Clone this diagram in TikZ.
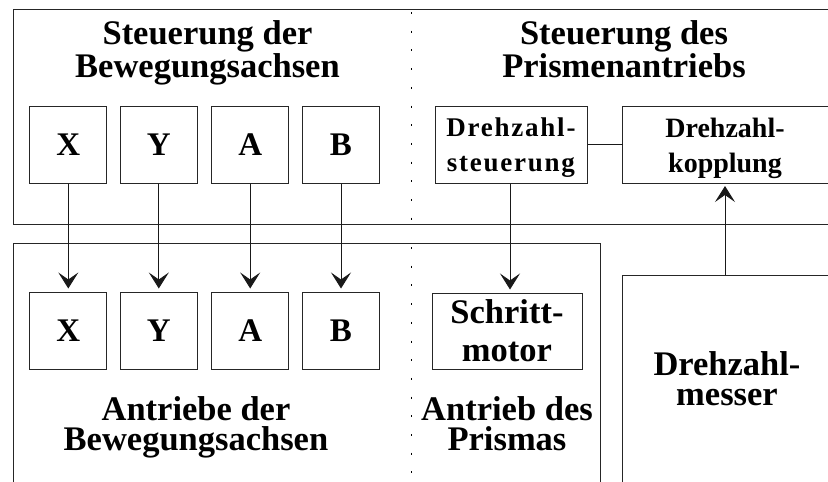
\documentclass[tikz,border=0pt]{standalone}
\usepackage{fontspec}
\setmainfont{Liberation Serif}
\usetikzlibrary{arrows.meta}
\begin{document}
\begin{tikzpicture}[x=1pt,y=-1pt,
  frame/.style={draw=black!85,line width=1pt},
  blk/.style={draw=black!85,line width=1pt,inner sep=0pt,font=\bfseries},
  axis/.style={blk,minimum width=76.7pt,minimum height=77pt,font=\fontsize{33}{33}\selectfont\bfseries},
  title/.style={align=center,inner sep=0pt,anchor=base,font=\fontsize{34.5}{30}\selectfont\bfseries},
  sep/.style={draw=black,line width=1pt,dash pattern=on 2pt off 16.7pt},
  link/.style={draw=black!90,line width=1pt},
  flow/.style={link,shorten >=3pt,-{Stealth[length=16pt,width=20pt,inset=7pt]}}
]
\useasboundingbox (0,0) rectangle (828,482);
\clip (0,0) rectangle (828,482);

% frames of the control and drive sections
\draw[frame] (860,9) -- (13,9) -- (13,224) -- (860,224);
\draw[frame] (13,500) -- (13,243) -- (600,243) -- (600,500);
\draw[frame] (622,500) -- (622,275) -- (860,275);

% dotted separators
\draw[sep] (411,12) -- (411,220);
\draw[sep] (411,247) -- (411,475);

% section titles (anchored at the baseline of their last line)
\node[title] (t1) at (207.5,77) {Steuerung der\\Bewegungsachsen};
\node[title] (t2) at (624,77) {Steuerung des\\Prismenantriebs};
\node[title] (t3) at (196,450) {Antriebe der\\Bewegungsachsen};
\node[title] (t4) at (507,450) {Antrieb des\\Prismas};
\node[title] (t5) at (727,405) {Drehzahl-\\messer};

% axis controllers
\node[axis] (cx) at (68.3,144.5) {X};
\node[axis] (cy) at (158.8,144.5) {Y};
\node[axis] (ca) at (250.2,144.5) {A};
\node[axis] (cb) at (341,144.5) {B};

% axis drives
\node[axis] (dx) at (68.3,330.5) {X};
\node[axis] (dy) at (158.8,330.5) {Y};
\node[axis] (da) at (250.2,330.5) {A};
\node[axis] (db) at (341,330.5) {B};

% prism drive chain
\node[blk,minimum width=152pt,minimum height=77pt,align=center,
  font=\fontsize{27}{35}\selectfont\bfseries\addfontfeature{LetterSpace=6.5}] (steu) at (511,144.5) {\rule{0pt}{25.6pt}Drehzahl-\\steuerung};
\draw[frame] (622.7,106) rectangle (860,183);
\node[align=center,inner sep=0pt,
  font=\fontsize{28}{35}\selectfont\bfseries] (kopp) at (725,148) {Drehzahl-\\kopplung};
\node[blk,minimum width=150pt,minimum height=76pt,align=center,
  font=\fontsize{34.5}{38}\selectfont\bfseries] (motor) at (507,331) {Schritt-\\motor};
\coordinate (kin) at (622.7,144.5);
\coordinate (kout) at (725,183);
\coordinate (mess) at (725,275);

% connectors
\draw[flow] (cx) -- (dx);
\draw[flow] (cy) -- (dy);
\draw[flow] (ca) -- (da);
\draw[flow] (cb) -- (db);
\draw[flow] (steu.south -| 510,0) -- (motor.north -| 510,0);
\draw[link] (steu.east) -- (kin);
\draw[flow] (mess) -- (kout);
\end{tikzpicture}
\end{document}
